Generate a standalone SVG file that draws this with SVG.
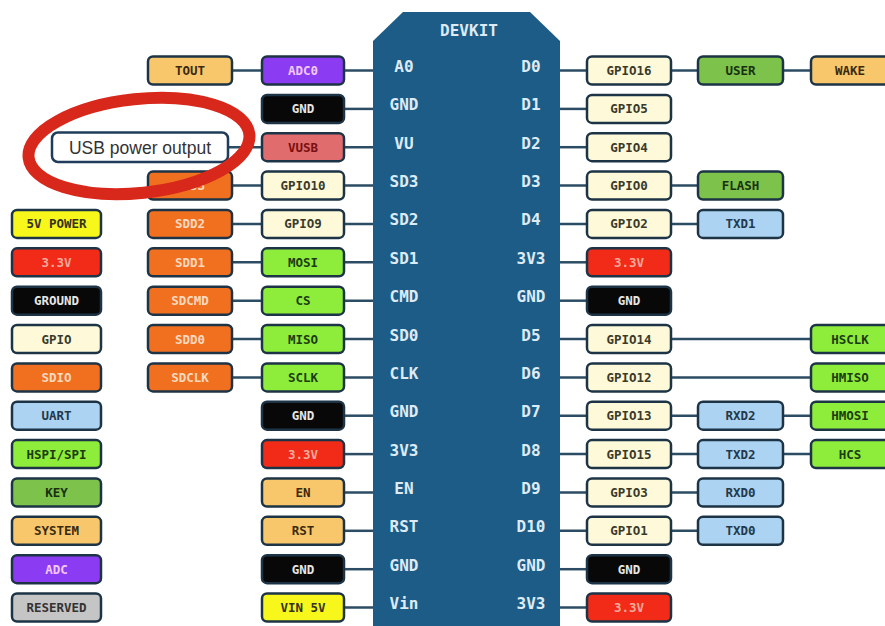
<svg xmlns="http://www.w3.org/2000/svg" width="885" height="626" viewBox="0 0 885 626">
<style>
.b{stroke:#1d3446;stroke-width:2.5}
.t{font-family:"DejaVu Sans Mono","Liberation Mono",monospace;font-weight:bold;font-size:12.5px;text-anchor:middle;dominant-baseline:central}
.p{font-family:"DejaVu Sans Mono","Liberation Mono",monospace;font-weight:bold;font-size:16px;text-anchor:middle;dominant-baseline:central;fill:#dcebf6}
.sys{fill:#f9c76b}.sys+text{fill:#3a2a10}
.adc{fill:#8b3cf2}.adc+text{fill:#f3c8f8}
.gnd{fill:#080808}.gnd+text{fill:#e6e6e6}
.vusb{fill:#e06c6e}.vusb+text{fill:#7a1010}
.gpio{fill:#fdf9d9}.gpio+text{fill:#3a3a2a}
.sdio{fill:#f07020}.sdio+text{fill:#fbd9bf}
.spi{fill:#8ded3a}.spi+text{fill:#1c3b10}
.key{fill:#7dc24b}.key+text{fill:#183010}
.uart{fill:#acd3f1}.uart+text{fill:#23384d}
.v33{fill:#f12b17}.v33+text{fill:#f6a89a}
.v5{fill:#f7f71c}.v5+text{fill:#333320}
.res{fill:#c5c5c5}.res+text{fill:#333}
#connectors line{stroke:#2b4c63;stroke-width:2.5}
</style>
<rect width="885" height="626" fill="#ffffff"/>
<g id="connectors">
<line x1="232" y1="70.5" x2="373" y2="70.5"/>
<line x1="344" y1="108.9" x2="373" y2="108.9"/>
<line x1="228" y1="147.2" x2="373" y2="147.2"/>
<line x1="232" y1="185.6" x2="373" y2="185.6"/>
<line x1="232" y1="223.9" x2="373" y2="223.9"/>
<line x1="232" y1="262.3" x2="373" y2="262.3"/>
<line x1="232" y1="300.7" x2="373" y2="300.7"/>
<line x1="232" y1="339.0" x2="373" y2="339.0"/>
<line x1="232" y1="377.4" x2="373" y2="377.4"/>
<line x1="344" y1="415.7" x2="373" y2="415.7"/>
<line x1="344" y1="454.1" x2="373" y2="454.1"/>
<line x1="344" y1="492.5" x2="373" y2="492.5"/>
<line x1="344" y1="530.8" x2="373" y2="530.8"/>
<line x1="344" y1="569.2" x2="373" y2="569.2"/>
<line x1="344" y1="607.5" x2="373" y2="607.5"/>
<line x1="560" y1="70.5" x2="811" y2="70.5"/>
<line x1="560" y1="108.9" x2="587" y2="108.9"/>
<line x1="560" y1="147.2" x2="587" y2="147.2"/>
<line x1="560" y1="185.6" x2="698" y2="185.6"/>
<line x1="560" y1="223.9" x2="698" y2="223.9"/>
<line x1="560" y1="262.3" x2="587" y2="262.3"/>
<line x1="560" y1="300.7" x2="587" y2="300.7"/>
<line x1="560" y1="339.0" x2="811" y2="339.0"/>
<line x1="560" y1="377.4" x2="811" y2="377.4"/>
<line x1="560" y1="415.7" x2="811" y2="415.7"/>
<line x1="560" y1="454.1" x2="811" y2="454.1"/>
<line x1="560" y1="492.5" x2="698" y2="492.5"/>
<line x1="560" y1="530.8" x2="698" y2="530.8"/>
<line x1="560" y1="569.2" x2="587" y2="569.2"/>
<line x1="560" y1="607.5" x2="587" y2="607.5"/>
</g>
<g id="devkit">
<polygon points="373,41 403,12 530,12 560,41 560,630 373,630" fill="#1c5c86"/>
<text class="p" x="469" y="30">DEVKIT</text>
<text class="p" x="404" y="66.5">A0</text>
<text class="p" x="404" y="104.9">GND</text>
<text class="p" x="404" y="143.2">VU</text>
<text class="p" x="404" y="181.6">SD3</text>
<text class="p" x="404" y="219.9">SD2</text>
<text class="p" x="404" y="258.3">SD1</text>
<text class="p" x="404" y="296.7">CMD</text>
<text class="p" x="404" y="335">SD0</text>
<text class="p" x="404" y="373.4">CLK</text>
<text class="p" x="404" y="411.7">GND</text>
<text class="p" x="404" y="450.1">3V3</text>
<text class="p" x="404" y="488.5">EN</text>
<text class="p" x="404" y="526.8">RST</text>
<text class="p" x="404" y="565.2">GND</text>
<text class="p" x="404" y="603.5">Vin</text>
<text class="p" x="531" y="66.5">D0</text>
<text class="p" x="531" y="104.9">D1</text>
<text class="p" x="531" y="143.2">D2</text>
<text class="p" x="531" y="181.6">D3</text>
<text class="p" x="531" y="219.9">D4</text>
<text class="p" x="531" y="258.3">3V3</text>
<text class="p" x="531" y="296.7">GND</text>
<text class="p" x="531" y="335">D5</text>
<text class="p" x="531" y="373.4">D6</text>
<text class="p" x="531" y="411.7">D7</text>
<text class="p" x="531" y="450.1">D8</text>
<text class="p" x="531" y="488.5">D9</text>
<text class="p" x="531" y="526.8">D10</text>
<text class="p" x="531" y="565.2">GND</text>
<text class="p" x="531" y="603.5">3V3</text>
</g>
<!-- legend -->
<g id="lg-5v"><rect class="b v5" x="12" y="209.9" width="89" height="28" rx="5"/><text class="t" x="56.5" y="223.9">5V POWER</text></g>
<g id="lg-33"><rect class="b v33" x="12" y="248.3" width="89" height="28" rx="5"/><text class="t" x="56.5" y="262.3">3.3V</text></g>
<g id="lg-gnd"><rect class="b gnd" x="12" y="286.7" width="89" height="28" rx="5"/><text class="t" x="56.5" y="300.7">GROUND</text></g>
<g id="lg-gpio"><rect class="b gpio" x="12" y="325" width="89" height="28" rx="5"/><text class="t" x="56.5" y="339">GPIO</text></g>
<g id="lg-sdio"><rect class="b sdio" x="12" y="363.4" width="89" height="28" rx="5"/><text class="t" x="56.5" y="377.4">SDIO</text></g>
<g id="lg-uart"><rect class="b uart" x="12" y="401.7" width="89" height="28" rx="5"/><text class="t" x="56.5" y="415.7">UART</text></g>
<g id="lg-spi"><rect class="b spi" x="12" y="440.1" width="89" height="28" rx="5"/><text class="t" x="56.5" y="454.1">HSPI/SPI</text></g>
<g id="lg-key"><rect class="b key" x="12" y="478.5" width="89" height="28" rx="5"/><text class="t" x="56.5" y="492.5">KEY</text></g>
<g id="lg-sys"><rect class="b sys" x="12" y="516.8" width="89" height="28" rx="5"/><text class="t" x="56.5" y="530.8">SYSTEM</text></g>
<g id="lg-adc"><rect class="b adc" x="12" y="555.2" width="89" height="28" rx="5"/><text class="t" x="56.5" y="569.2">ADC</text></g>
<g id="lg-res"><rect class="b res" x="12" y="593.5" width="89" height="28" rx="5"/><text class="t" x="56.5" y="607.5">RESERVED</text></g>
<!-- left col1 -->
<g id="tout"><rect class="b sys" x="148" y="56.5" width="84" height="28" rx="5"/><text class="t" x="190" y="70.5">TOUT</text></g>
<g id="sdd3"><rect class="b sdio" x="148" y="171.6" width="84" height="28" rx="5"/><text class="t" x="190" y="185.6">SDD3</text></g>
<g id="sdd2"><rect class="b sdio" x="148" y="209.9" width="84" height="28" rx="5"/><text class="t" x="190" y="223.9">SDD2</text></g>
<g id="sdd1"><rect class="b sdio" x="148" y="248.3" width="84" height="28" rx="5"/><text class="t" x="190" y="262.3">SDD1</text></g>
<g id="sdcmd"><rect class="b sdio" x="148" y="286.7" width="84" height="28" rx="5"/><text class="t" x="190" y="300.7">SDCMD</text></g>
<g id="sdd0"><rect class="b sdio" x="148" y="325" width="84" height="28" rx="5"/><text class="t" x="190" y="339">SDD0</text></g>
<g id="sdclk"><rect class="b sdio" x="148" y="363.4" width="84" height="28" rx="5"/><text class="t" x="190" y="377.4">SDCLK</text></g>
<!-- left col2 -->
<g id="adc0"><rect class="b adc" x="262" y="56.5" width="82" height="28" rx="5"/><text class="t" x="303" y="70.5">ADC0</text></g>
<g id="gnd-l1"><rect class="b gnd" x="262" y="94.9" width="82" height="28" rx="5"/><text class="t" x="303" y="108.9">GND</text></g>
<g id="vusb"><rect class="b vusb" x="262" y="133.2" width="82" height="28" rx="5"/><text class="t" x="303" y="147.2">VUSB</text></g>
<g id="gpio10"><rect class="b gpio" x="262" y="171.6" width="82" height="28" rx="5"/><text class="t" x="303" y="185.6">GPIO10</text></g>
<g id="gpio9"><rect class="b gpio" x="262" y="209.9" width="82" height="28" rx="5"/><text class="t" x="303" y="223.9">GPIO9</text></g>
<g id="mosi"><rect class="b spi" x="262" y="248.3" width="82" height="28" rx="5"/><text class="t" x="303" y="262.3">MOSI</text></g>
<g id="cs"><rect class="b spi" x="262" y="286.7" width="82" height="28" rx="5"/><text class="t" x="303" y="300.7">CS</text></g>
<g id="miso"><rect class="b spi" x="262" y="325" width="82" height="28" rx="5"/><text class="t" x="303" y="339">MISO</text></g>
<g id="sclk"><rect class="b spi" x="262" y="363.4" width="82" height="28" rx="5"/><text class="t" x="303" y="377.4">SCLK</text></g>
<g id="gnd-l2"><rect class="b gnd" x="262" y="401.7" width="82" height="28" rx="5"/><text class="t" x="303" y="415.7">GND</text></g>
<g id="v33-l"><rect class="b v33" x="262" y="440.1" width="82" height="28" rx="5"/><text class="t" x="303" y="454.1">3.3V</text></g>
<g id="en"><rect class="b sys" x="262" y="478.5" width="82" height="28" rx="5"/><text class="t" x="303" y="492.5">EN</text></g>
<g id="rst"><rect class="b sys" x="262" y="516.8" width="82" height="28" rx="5"/><text class="t" x="303" y="530.8">RST</text></g>
<g id="gnd-l3"><rect class="b gnd" x="262" y="555.2" width="82" height="28" rx="5"/><text class="t" x="303" y="569.2">GND</text></g>
<g id="vin5v"><rect class="b v5" x="262" y="593.5" width="82" height="28" rx="5"/><text class="t" x="303" y="607.5">VIN 5V</text></g>
<!-- right col1 -->
<g id="gpio16"><rect class="b gpio" x="587" y="56.5" width="84" height="28" rx="5"/><text class="t" x="629" y="70.5">GPIO16</text></g>
<g id="gpio5"><rect class="b gpio" x="587" y="94.9" width="84" height="28" rx="5"/><text class="t" x="629" y="108.9">GPIO5</text></g>
<g id="gpio4"><rect class="b gpio" x="587" y="133.2" width="84" height="28" rx="5"/><text class="t" x="629" y="147.2">GPIO4</text></g>
<g id="gpio0"><rect class="b gpio" x="587" y="171.6" width="84" height="28" rx="5"/><text class="t" x="629" y="185.6">GPIO0</text></g>
<g id="gpio2"><rect class="b gpio" x="587" y="209.9" width="84" height="28" rx="5"/><text class="t" x="629" y="223.9">GPIO2</text></g>
<g id="v33-r1"><rect class="b v33" x="587" y="248.3" width="84" height="28" rx="5"/><text class="t" x="629" y="262.3">3.3V</text></g>
<g id="gnd-r1"><rect class="b gnd" x="587" y="286.7" width="84" height="28" rx="5"/><text class="t" x="629" y="300.7">GND</text></g>
<g id="gpio14"><rect class="b gpio" x="587" y="325" width="84" height="28" rx="5"/><text class="t" x="629" y="339">GPIO14</text></g>
<g id="gpio12"><rect class="b gpio" x="587" y="363.4" width="84" height="28" rx="5"/><text class="t" x="629" y="377.4">GPIO12</text></g>
<g id="gpio13"><rect class="b gpio" x="587" y="401.7" width="84" height="28" rx="5"/><text class="t" x="629" y="415.7">GPIO13</text></g>
<g id="gpio15"><rect class="b gpio" x="587" y="440.1" width="84" height="28" rx="5"/><text class="t" x="629" y="454.1">GPIO15</text></g>
<g id="gpio3"><rect class="b gpio" x="587" y="478.5" width="84" height="28" rx="5"/><text class="t" x="629" y="492.5">GPIO3</text></g>
<g id="gpio1"><rect class="b gpio" x="587" y="516.8" width="84" height="28" rx="5"/><text class="t" x="629" y="530.8">GPIO1</text></g>
<g id="gnd-r2"><rect class="b gnd" x="587" y="555.2" width="84" height="28" rx="5"/><text class="t" x="629" y="569.2">GND</text></g>
<g id="v33-r2"><rect class="b v33" x="587" y="593.5" width="84" height="28" rx="5"/><text class="t" x="629" y="607.5">3.3V</text></g>
<!-- right col2 -->
<g id="user"><rect class="b key" x="698" y="56.5" width="85" height="28" rx="5"/><text class="t" x="740.5" y="70.5">USER</text></g>
<g id="flash"><rect class="b key" x="698" y="171.6" width="85" height="28" rx="5"/><text class="t" x="740.5" y="185.6">FLASH</text></g>
<g id="txd1"><rect class="b uart" x="698" y="209.9" width="85" height="28" rx="5"/><text class="t" x="740.5" y="223.9">TXD1</text></g>
<g id="rxd2"><rect class="b uart" x="698" y="401.7" width="85" height="28" rx="5"/><text class="t" x="740.5" y="415.7">RXD2</text></g>
<g id="txd2"><rect class="b uart" x="698" y="440.1" width="85" height="28" rx="5"/><text class="t" x="740.5" y="454.1">TXD2</text></g>
<g id="rxd0"><rect class="b uart" x="698" y="478.5" width="85" height="28" rx="5"/><text class="t" x="740.5" y="492.5">RXD0</text></g>
<g id="txd0"><rect class="b uart" x="698" y="516.8" width="85" height="28" rx="5"/><text class="t" x="740.5" y="530.8">TXD0</text></g>
<!-- right col3 -->
<g id="wake"><rect class="b sys" x="811" y="56.5" width="84" height="28" rx="5"/><text class="t" x="850" y="70.5">WAKE</text></g>
<g id="hsclk"><rect class="b spi" x="811" y="325" width="84" height="28" rx="5"/><text class="t" x="850" y="339">HSCLK</text></g>
<g id="hmiso"><rect class="b spi" x="811" y="363.4" width="84" height="28" rx="5"/><text class="t" x="850" y="377.4">HMISO</text></g>
<g id="hmosi"><rect class="b spi" x="811" y="401.7" width="84" height="28" rx="5"/><text class="t" x="850" y="415.7">HMOSI</text></g>
<g id="hcs"><rect class="b spi" x="811" y="440.1" width="84" height="28" rx="5"/><text class="t" x="850" y="454.1">HCS</text></g>
<!-- usb note -->
<g id="usb-note">
<rect x="52" y="132.5" width="176" height="29.5" rx="6" fill="#ffffff" stroke="#1f3d5a" stroke-width="2.5"/>
<text x="140" y="147.5" font-family="Liberation Sans, Arial, sans-serif" font-size="17.5" fill="#333" text-anchor="middle" dominant-baseline="central">USB power output</text>
</g>
<g id="highlight">
<ellipse cx="139" cy="146" rx="111" ry="47" transform="rotate(-6 139 146)" fill="none" stroke="#d8281b" stroke-width="12"/>
</g>
</svg>
